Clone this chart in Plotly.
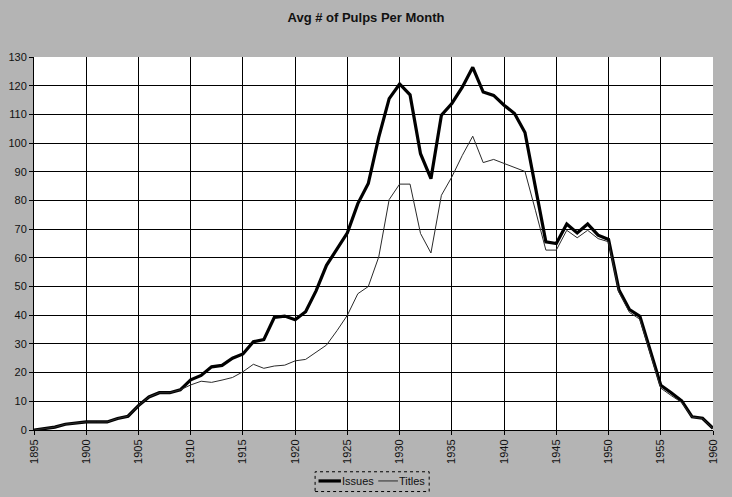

# -*- coding: utf-8 -*-
"""Avg # of Pulps Per Month -- issues vs titles, 1895-1960."""

import plotly.graph_objects as go

# -----------------------------------------------------------------------------
# -- Data
years = list(range(1895, 1961))

issues = [
    0, 0.5, 1, 2, 2.3, 2.8, 2.8, 2.8, 4, 4.8,             # 1895-1904
    8.5, 11.5, 13, 13, 14, 17.5, 19, 22, 22.5, 25,        # 1905-1914
    26.5, 30.8, 31.5, 39.2, 39.7, 38.4, 41.2, 48.5, 57.4, 63.3,  # 1915-1924
    68.7, 78.9, 85.9, 102, 115.5, 120.6, 116.8, 96.3, 87.6, 109.7,  # 1925-1934
    113.8, 119.5, 126.4, 117.8, 116.6, 113.2, 110.3, 103.7, 84, 65.6,  # 1935-1944
    65, 71.8, 68.7, 71.8, 67.9, 66.4, 48.8, 42, 39.6, 27.8,  # 1945-1954
    15.6, 13, 10.2, 4.6, 4.1, 0.6,                        # 1955-1960
]

titles = [
    0, 0.5, 1, 2, 2.3, 2.8, 2.8, 2.8, 4, 4.8,
    8.5, 11.5, 13, 13, 14, 15.7, 17, 16.6, 17.4, 18.3,
    20.3, 22.9, 21.5, 22.3, 22.6, 24.1, 24.6, 27, 29.6, 34.6,
    40, 47.5, 50, 60.3, 80.3, 85.7, 85.7, 68.5, 61.7, 81.8,
    88.2, 95.7, 102.4, 93.2, 94.3, 92.9, 91.5, 90.1, 76.6, 62.7,
    62.7, 69.6, 67, 69.6, 66.7, 65.6, 48, 41, 38.6, 26.8,
    14.6, 12, 9.6, 4.5, 4, 0.5,
]

series_names = ["Issues", "Titles"]

FONT = "Liberation Sans, Arial, sans-serif"
BG = "#b4b4b4"
INK = "#111111"
ISSUES_W = 3.2
TITLES_W = 1

fig = go.Figure()
fig.add_trace(go.Scatter(x=years, y=issues, mode="lines", name=series_names[0],
                         line=dict(color="black", width=ISSUES_W)))
fig.add_trace(go.Scatter(x=years, y=titles, mode="lines", name=series_names[1],
                         line=dict(color="#2a2a2a", width=TITLES_W)))

# -----------------------------------------------------------------------------
# -- Hand-built legend (Excel style: short keys, dotted frame)
leg_y = -0.1366
fig.add_shape(type="rect", xref="paper", yref="paper",
              x0=0.414, x1=0.582, y0=-0.165, y1=-0.112,
              line=dict(color="black", width=1, dash="dot"))
fig.add_shape(type="line", xref="paper", yref="paper",
              x0=0.419, x1=0.452, y0=leg_y, y1=leg_y,
              line=dict(color="black", width=ISSUES_W))
fig.add_shape(type="line", xref="paper", yref="paper",
              x0=0.507, x1=0.536, y0=leg_y, y1=leg_y,
              line=dict(color="#2a2a2a", width=TITLES_W))
for name, xpos in zip(series_names, [0.4525, 0.5365]):
    fig.add_annotation(text=name, xref="paper", yref="paper", x=xpos, y=leg_y,
                       xanchor="left", yanchor="middle", showarrow=False,
                       xshift=-1, font=dict(size=11, color=INK))

fig.update_layout(
    width=732, height=497,
    margin=dict(l=34, r=19, t=57, b=67),
    paper_bgcolor=BG, plot_bgcolor="white",
    font=dict(family=FONT, size=11, color=INK),
    title=dict(text="<b>Avg # of Pulps Per Month</b>", x=0.5, xanchor="center",
               y=0.965, yanchor="middle", font=dict(size=13, color=INK)),
    showlegend=False,
    xaxis=dict(range=[1895, 1960], tick0=1895, dtick=5, tickangle=-90,
               showgrid=True, gridcolor="black", gridwidth=1,
               showline=True, linecolor="black", linewidth=1,
               ticks="outside", ticklen=4, tickcolor="black",
               tickfont=dict(size=11), zeroline=False, automargin=False),
    yaxis=dict(range=[0, 130], dtick=10,
               showgrid=True, gridcolor="black", gridwidth=1,
               showline=True, linecolor="black", linewidth=1,
               ticks="outside", ticklen=4, tickcolor="black",
               tickfont=dict(size=11), zeroline=False, automargin=False),
)

# drop the browser's default body margin so the figure fills the window
fig.write_html("out.html", config={"displayModeBar": False},
               post_script="document.body.style.margin='0';")
